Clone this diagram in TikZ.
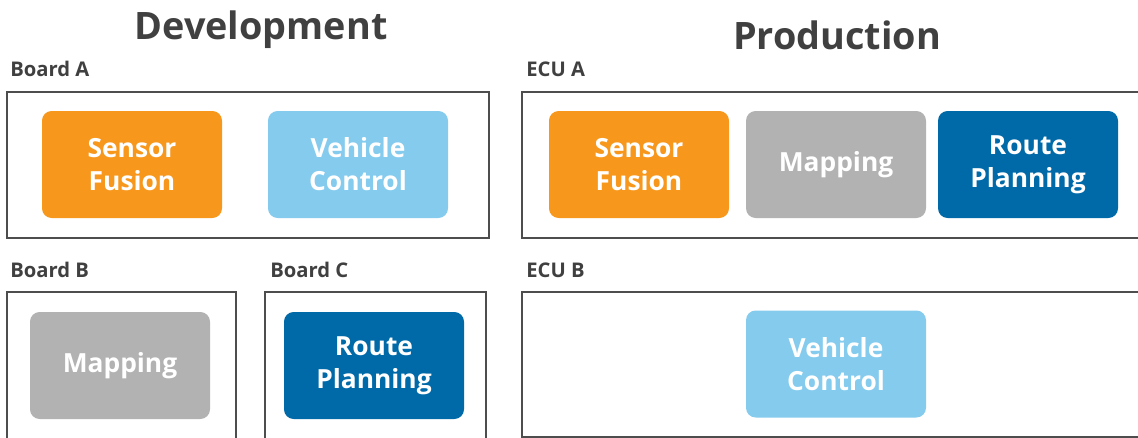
\documentclass[tikz,border=0pt]{standalone}
\usepackage{fontspec}
\setmainfont{Open Sans}
\definecolor{sfOrange}{HTML}{F7981D}
\definecolor{vcBlue}{HTML}{84CBEE}
\definecolor{mapGray}{HTML}{B2B2B2}
\definecolor{rpBlue}{HTML}{0069A8}
\definecolor{frameGray}{HTML}{4D4D4D}
\definecolor{textGray}{HTML}{404040}
\begin{document}
\begin{tikzpicture}[
	module/.style={rounded corners=5.5pt, minimum width=3.6cm, minimum height=2.14cm, text width=3.4cm, align=center, text=white, font=\fontsize{15}{18.7}\selectfont\bfseries, inner sep=0pt},
	board/.style={draw=frameGray, line width=1.1pt},
	heading/.style={anchor=base, text=textGray, font=\fontsize{21.5}{26}\selectfont\bfseries},
	tag/.style={anchor=base west, text=textGray, font=\fontsize{11.5}{14}\selectfont\bfseries, inner sep=0pt}
	]
	
	\useasboundingbox (0,0) rectangle (22.76,8.74);
	\clip (0,0) rectangle (22.76,8.74);
	
	% titles
	\node[heading] (dev) at (5.22,7.94) {Development};
	\node[heading] (prod) at (16.74,7.75) {Production};
	
	% development boards
	\node[tag] (tagA) at (0.2,7.2) {Board A};
	\node[tag] (tagB) at (0.2,3.2) {Board B};
	\node[tag] (tagC) at (5.4,3.2) {Board C};
	\draw[board] (0.14,3.98) rectangle (9.78,6.90);
	\draw[board] (0.14,-0.5) rectangle (4.72,2.90);
	\draw[board] (5.30,-0.5) rectangle (9.72,2.90);
	
	\node[module, fill=sfOrange] (sfA) at (2.64,5.45) {Sensor\\Fusion};
	\node[module, fill=vcBlue] (vcA) at (7.16,5.45) {Vehicle\\Control};
	\node[module, fill=mapGray] (mapB) at (2.40,1.43) {Mapping};
	\node[module, fill=rpBlue] (rpC) at (7.48,1.43) {Route\\Planning};
	
	% production ECUs
	\node[tag] (tagEA) at (10.52,7.2) {ECU A};
	\node[tag] (tagEB) at (10.52,3.2) {ECU B};
	\draw[board] (10.44,3.98) rectangle (23.2,6.90);
	\draw[board] (10.44,0.0) rectangle (23.2,2.90);
	
	\node[module, fill=sfOrange] (sfE) at (12.78,5.45) {Sensor\\Fusion};
	\node[module, fill=mapGray] (mapE) at (16.72,5.45) {Mapping};
	\node[module, fill=rpBlue] (rpE) at (20.56,5.45) {Route\\Planning};
	\node[module, fill=vcBlue] (vcE) at (16.72,1.46) {Vehicle\\Control};
	
\end{tikzpicture}
\end{document}
